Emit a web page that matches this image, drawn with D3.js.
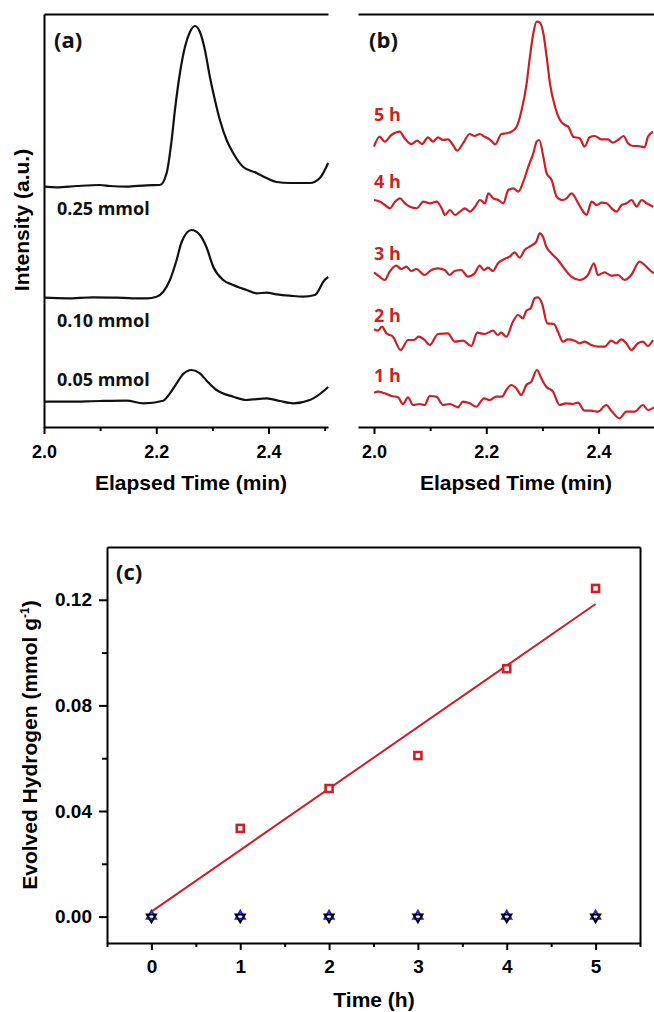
<!DOCTYPE html>
<html>
<head>
<meta charset="utf-8">
<script src="https://cdn.jsdelivr.net/npm/d3@7"></script>
<style>
  body { margin: 0; background: #fff; }
  svg { display: block; }
</style>
</head>
<body>
<svg id="fig"></svg>
<script>
// ---- data ----
// (a) chromatograms, [elapsed time (min), intensity (a.u.)]
var traceA025 = [[2.0,240.3],[2.0226,239.7],[2.0582,241],[2.0997,242],[2.1175,241],[2.1472,240.3],[2.1828,241.7],[2.2066,242],
  [2.2185,254],[2.2274,287],[2.2333,317],[2.2422,354],[2.2511,380],[2.26,395],[2.2689,401],[2.2778,395],[2.2867,377],
  [2.2956,350],[2.3045,327],[2.3134,307],[2.3253,287],[2.337,274],[2.355,260],[2.3788,254],[2.3966,249],[2.4144,245],
  [2.438,244],[2.4737,244],[2.4915,249],[2.5063,264]];
var traceA010 = [[2.0,129.3],[2.0404,128.7],[2.0879,129.7],[2.1295,129.3],[2.1591,128.7],[2.1829,128.7],[2.2007,130.3],
  [2.2125,135.3],[2.2244,147],[2.2363,167],[2.2452,185],[2.2627,197],[2.2778,192],[2.2897,179.5],[2.3015,160.3],
  [2.3193,147],[2.337,142],[2.361,137],[2.3788,133.7],[2.3966,134.3],[2.4144,132.7],[2.438,131.3],[2.4618,130.3],
  [2.4826,132],[2.5,147],[2.5063,150]];
var traceA005 = [[2.0,25.3],[2.0404,25.3],[2.0997,26],[2.1472,26.3],[2.1769,23.7],[2.2125,26.3],[2.2244,33.7],[2.2363,43.7],
  [2.2481,53],[2.263,57],[2.2778,53.7],[2.2897,46.3],[2.3075,37],[2.3372,30.3],[2.3609,27],[2.3966,28.7],[2.4203,26],
  [2.444,23.7],[2.4737,27],[2.5004,37],[2.5063,40]];
var labelsA = ["0.25 mmol", "0.10 mmol", "0.05 mmol"];

// (b) chromatograms after irradiation
var traceB5 = [[2.0,280.3],[2.0101,290.3],[2.019,285.3],[2.0309,292],[2.0457,295.3],[2.0546,288.7],[2.0665,283],[2.0772,286.3],
  [2.0855,283],[2.0962,289.7],[2.1051,285.3],[2.114,289.7],[2.1229,287],[2.1318,287.7],[2.1407,282],[2.1484,276.3],
  [2.1585,283.7],[2.1704,293],[2.1793,291],[2.1882,293],[2.1971,290.3],[2.206,287.7],[2.2161,282.7],[2.2268,293],
  [2.2357,293.7],[2.2446,295.3],[2.2541,300.3],[2.263,317],[2.2719,343.7],[2.2778,370.3],[2.2838,393.7],[2.2897,405.3],
  [2.2956,404.3],[2.3016,393.7],[2.3075,370.3],[2.3134,343.7],[2.3224,320.3],[2.3313,307],[2.3402,302],[2.3461,300.3],
  [2.355,290.3],[2.3663,288.7],[2.3752,280.3],[2.3841,289.7],[2.393,291],[2.4049,287.7],[2.4167,287.7],[2.4256,284.3],
  [2.4345,287],[2.4446,291],[2.4524,283.7],[2.4613,281],[2.4702,281],[2.4821,279.7],[2.488,290.3],[2.4969,295.3]];
var traceB4 = [[2.0,227],[2.0107,225.3],[2.0196,222],[2.0285,218.7],[2.0374,225.3],[2.0463,228.7],[2.0552,223.7],[2.0641,220.3],
  [2.076,218.7],[2.0879,225.3],[2.0997,223.7],[2.1116,225.3],[2.1205,218.7],[2.1264,212],[2.1354,217],[2.1443,212],
  [2.1532,215.3],[2.1621,218.7],[2.171,215.3],[2.1799,220.3],[2.1888,227],[2.1977,223.7],[2.2036,233.7],[2.2125,228.7],
  [2.2214,227],[2.2303,223.7],[2.2392,237],[2.2481,238.7],[2.257,235.3],[2.266,245.3],[2.2749,260.3],[2.2838,273.7],
  [2.2897,285.3],[2.2944,287],[2.3016,270.3],[2.3075,253.7],[2.3164,247],[2.3253,230.3],[2.3342,227],[2.3431,228.7],
  [2.352,233.7],[2.3639,223.7],[2.3728,215.3],[2.3787,212],[2.3876,225.3],[2.3966,222],[2.4055,224.3],[2.4144,223.7],
  [2.4233,218.7],[2.4322,215.3],[2.4411,222],[2.45,223.7],[2.4589,227],[2.4678,220.3],[2.4767,227],[2.4856,223.7],
  [2.4975,220.3]];
var traceB3 = [[2.0,154.7],[2.0101,150.3],[2.019,147],[2.0279,155.3],[2.0398,161.3],[2.0487,158],[2.0576,160.3],[2.0665,156],
  [2.0754,158],[2.0902,152],[2.1021,157],[2.114,158.7],[2.1259,157],[2.1348,152],[2.1437,156],[2.1555,157],[2.1674,150.3],
  [2.1793,153.7],[2.1882,161.3],[2.1959,157],[2.203,159.3],[2.2119,156],[2.2208,163.7],[2.2327,168],[2.2416,170.3],
  [2.2505,174.7],[2.2594,169.3],[2.2683,177],[2.2802,181.3],[2.2891,185.3],[2.295,193.7],[2.3009,190.3],[2.3069,180.3],
  [2.3158,173.7],[2.3277,167],[2.3396,158],[2.3514,150.3],[2.3663,147],[2.3811,152],[2.3918,163.7],[2.3989,152],
  [2.4108,154.7],[2.4227,151.3],[2.4345,152],[2.4464,147],[2.4583,152],[2.4731,165.3],[2.482,162],[2.4909,157],
  [2.4987,153.7]];
var traceB2 = [[2.0,97.7],[2.0071,96.3],[2.0142,100.3],[2.022,93.7],[2.0338,90.3],[2.0475,77],[2.0606,87],[2.0712,87],
  [2.0795,90.3],[2.0902,87],[2.0992,82],[2.114,93],[2.1318,93.7],[2.1437,85.3],[2.1585,86.3],[2.1733,81],[2.184,94.3],
  [2.1971,93],[2.2119,96.3],[2.2208,92],[2.2268,94.3],[2.2357,90.3],[2.2475,105.3],[2.2565,112],[2.2654,108.7],
  [2.2713,116.3],[2.279,118.7],[2.2861,128.7],[2.2921,129.7],[2.2992,123.7],[2.3087,103.7],[2.3206,103],[2.3277,95.3],
  [2.3366,85.3],[2.3455,87.7],[2.3574,86.3],[2.3663,83.7],[2.3752,85.3],[2.387,82],[2.3989,80.3],[2.4108,80.3],
  [2.4227,86.3],[2.4316,83.7],[2.4405,87.7],[2.4494,83.7],[2.4583,77],[2.4702,83.7],[2.4791,85.3],[2.488,81],[2.4969,87]];
var traceB1 = [[2.0,34.3],[2.0071,35.3],[2.019,33.7],[2.0309,31],[2.0427,29.7],[2.0516,23],[2.0606,29.7],[2.0695,22],
  [2.0813,23],[2.0902,22],[2.0992,31],[2.111,30.3],[2.1229,22],[2.1348,23],[2.1496,19.7],[2.1585,25.3],[2.1704,23.7],
  [2.1822,20.3],[2.1959,28.7],[2.206,27],[2.2179,30.3],[2.228,30.3],[2.2357,37],[2.2446,42],[2.2535,38.7],[2.2624,32],
  [2.2713,42],[2.2802,45.3],[2.2903,57],[2.298,48.7],[2.3069,40.3],[2.3188,35.3],[2.3306,22],[2.3425,23.7],[2.3544,23],
  [2.3633,24.3],[2.3752,16.3],[2.387,16.3],[2.3989,15.3],[2.4137,22],[2.4227,16.3],[2.4375,8.7],[2.4494,15.3],
  [2.4643,15.3],[2.4791,22],[2.488,17],[2.4987,19.7]];
var labelsB = ["5 h", "4 h", "3 h", "2 h", "1 h"];

var ticksA = [2.0, 2.2, 2.4];
var minorA = [2.1, 2.3, 2.5];

// (c) evolved hydrogen vs time
var hoursRed = [1, 2, 3, 4, 5];
var hydrogenRed = [0.0334, 0.0485, 0.061, 0.0939, 0.1243];
var hoursRef = [0, 1, 2, 3, 4, 5];
var hydrogenBlue = [0, 0, 0, 0, 0, 0];
var hydrogenBlack = [0, 0, 0, 0, 0, 0];
var fitHours = [0, 5];
var fitHydrogen = [0.0019, 0.1184];
var ticksCx = [0, 1, 2, 3, 4, 5];
var minorCx = [-0.5, 0.5, 1.5, 2.5, 3.5, 4.5, 5.5];
var ticksCy = [0.00, 0.04, 0.08, 0.12];
var minorCy = [0.02, 0.06, 0.10];

// ---- drawing ----
var width = 654, height = 1012;
var red = "#cc1f28", blue = "#1f1fff";
var tickFont = "'Liberation Sans', Arial, sans-serif";
var labelFont = "'Open Sans', 'Noto Sans', sans-serif";

var svg = d3.select("#fig").attr("width", width).attr("height", height);

function styleAxis(g, size) {
  g.attr("font-family", tickFont).attr("font-size", size).attr("font-weight", "bold");
  g.selectAll("path, line").attr("stroke", "#000").attr("stroke-width", 2);
  g.selectAll("text").attr("fill", "#000");
}

// panel (a)
var xA = d3.scaleLinear().domain([2.0, 2.506]).range([44, 328]);
var yA = d3.scaleLinear().domain([0, 413]).range([427, 14]);
// panel (b)
var xB = d3.scaleLinear().domain([1.9715, 2.5]).range([358, 654.7]);
var yB = yA;

var panels = [
  {x: xA, ticks: ticksA, minor: minorA},
  {x: xB, ticks: ticksA, minor: [2.1, 2.3]}
];

panels.forEach(function (p) {
  var bottom = svg.append("g").attr("transform", "translate(0,427)")
    .call(d3.axisBottom(p.x).tickValues(p.ticks).tickFormat(d3.format(".1f"))
      .tickSizeInner(7).tickSizeOuter(0).tickPadding(11));
  styleAxis(bottom, 18);
  var minor = svg.append("g").attr("transform", "translate(0,427)")
    .call(d3.axisBottom(p.x).tickValues(p.minor).tickFormat("").tickSize(4));
  minor.select(".domain").remove();
  styleAxis(minor, 18);
  var top = svg.append("g").attr("transform", "translate(0,14)")
    .call(d3.axisTop(p.x).tickValues([]).tickSizeOuter(0));
  styleAxis(top, 18);
});

var left = svg.append("g").attr("transform", "translate(44,0)")
  .call(d3.axisLeft(yA).tickValues([]).tickSizeOuter(0));
styleAxis(left, 18);

var lineA = d3.line().x(function (d) { return xA(d[0]); }).y(function (d) { return yA(d[1]); })
  .curve(d3.curveMonotoneX);
var lineB = d3.line().x(function (d) { return xB(d[0]); }).y(function (d) { return yB(d[1]); })
  .curve(d3.curveMonotoneX);

[traceA025, traceA010, traceA005].forEach(function (t) {
  svg.append("path").datum(t).attr("d", lineA)
    .attr("fill", "none").attr("stroke", "#111").attr("stroke-width", 2.2);
});
[traceB5, traceB4, traceB3, traceB2, traceB1].forEach(function (t) {
  svg.append("path").datum(t).attr("d", lineB)
    .attr("fill", "none").attr("stroke", red).attr("stroke-width", 2.2);
});

var labelYA = [215, 327, 386];
labelsA.forEach(function (s, i) {
  svg.append("text").attr("x", 57).attr("y", labelYA[i]).text(s)
    .attr("font-family", labelFont).attr("font-weight", "bold").attr("font-size", 18).attr("fill", "#111");
});
var labelYB = [121, 188, 260, 322, 382];
labelsB.forEach(function (s, i) {
  svg.append("text").attr("x", 374).attr("y", labelYB[i]).text(s)
    .attr("font-family", labelFont).attr("font-weight", "bold").attr("font-size", 18).attr("fill", red);
});

function panelTag(s, x, y) {
  svg.append("text").attr("x", x).attr("y", y).text(s)
    .attr("font-family", labelFont).attr("font-weight", "bold").attr("font-size", 22).attr("fill", "#111");
}
panelTag("(a)", 54, 48);
panelTag("(b)", 369, 48);
panelTag("(c)", 116, 580);

function axisTitle(s, x, y, rot) {
  return svg.append("text").attr("transform", "translate(" + x + "," + y + ")" + (rot ? " rotate(-90)" : ""))
    .attr("text-anchor", "middle").attr("font-family", tickFont).attr("font-weight", "bold")
    .attr("font-size", 21).attr("fill", "#000").text(s);
}
axisTitle("Elapsed Time (min)", 191, 490);
axisTitle("Elapsed Time (min)", 516, 490);
axisTitle("Intensity (a.u.)", 29, 220, true);

// panel (c)
var xC = d3.scaleLinear().domain([-0.5, 5.5]).range([107, 640]);
var yC = d3.scaleLinear().domain([-0.01, 0.14]).range([943, 547]);

var bc = svg.append("g").attr("transform", "translate(0,943)")
  .call(d3.axisBottom(xC).tickValues(ticksCx).tickFormat(d3.format("d"))
    .tickSizeInner(7).tickSizeOuter(0).tickPadding(10));
styleAxis(bc, 19);
var bcm = svg.append("g").attr("transform", "translate(0,943)")
  .call(d3.axisBottom(xC).tickValues(minorCx).tickFormat("").tickSize(4));
bcm.select(".domain").remove();
styleAxis(bcm, 19);
var lc = svg.append("g").attr("transform", "translate(107,0)")
  .call(d3.axisLeft(yC).tickValues(ticksCy).tickFormat(d3.format(".2f"))
    .tickSizeInner(8).tickSizeOuter(0).tickPadding(7));
styleAxis(lc, 19);
var lcm = svg.append("g").attr("transform", "translate(107,0)")
  .call(d3.axisLeft(yC).tickValues(minorCy).tickFormat("").tickSize(5));
lcm.select(".domain").remove();
styleAxis(lcm, 19);
var tc = svg.append("g").attr("transform", "translate(0,547)")
  .call(d3.axisTop(xC).tickValues([]).tickSizeOuter(0));
styleAxis(tc, 19);
var rc = svg.append("g").attr("transform", "translate(640,0)")
  .call(d3.axisRight(yC).tickValues([]).tickSizeOuter(0));
styleAxis(rc, 19);

// linear fit
svg.append("line")
  .attr("x1", xC(fitHours[0])).attr("y1", yC(fitHydrogen[0]))
  .attr("x2", xC(fitHours[1])).attr("y2", yC(fitHydrogen[1]))
  .attr("stroke", red).attr("stroke-width", 2);

svg.selectAll(".sq").data(hoursRed).enter().append("rect")
  .attr("x", function (d) { return xC(d) - 3.5; })
  .attr("y", function (d, i) { return yC(hydrogenRed[i]) - 3.5; })
  .attr("width", 7).attr("height", 7)
  .attr("fill", "#fff").attr("stroke", red).attr("stroke-width", 2.6);

var tri = d3.symbol().type(d3.symbolTriangle).size(36);
svg.selectAll(".up").data(hoursRef).enter().append("path")
  .attr("d", tri)
  .attr("transform", function (d, i) { return "translate(" + xC(d) + "," + (yC(hydrogenBlue[i]) - 0.5) + ")"; })
  .attr("fill", "#fff").attr("stroke", blue).attr("stroke-width", 2);
svg.selectAll(".down").data(hoursRef).enter().append("path")
  .attr("d", tri)
  .attr("transform", function (d, i) { return "translate(" + xC(d) + "," + (yC(hydrogenBlack[i]) + 0.5) + ") rotate(180)"; })
  .attr("fill", "none").attr("stroke", "#000").attr("stroke-width", 2);

axisTitle("Time (h)", 374, 1007);
var yt = axisTitle("", 37, 745, true);
yt.append("tspan").text("Evolved Hydrogen (mmol g");
yt.append("tspan").attr("font-size", 12).attr("dy", -8).text("-1");
yt.append("tspan").attr("dy", 8).text(")");
</script>
</body>
</html>
